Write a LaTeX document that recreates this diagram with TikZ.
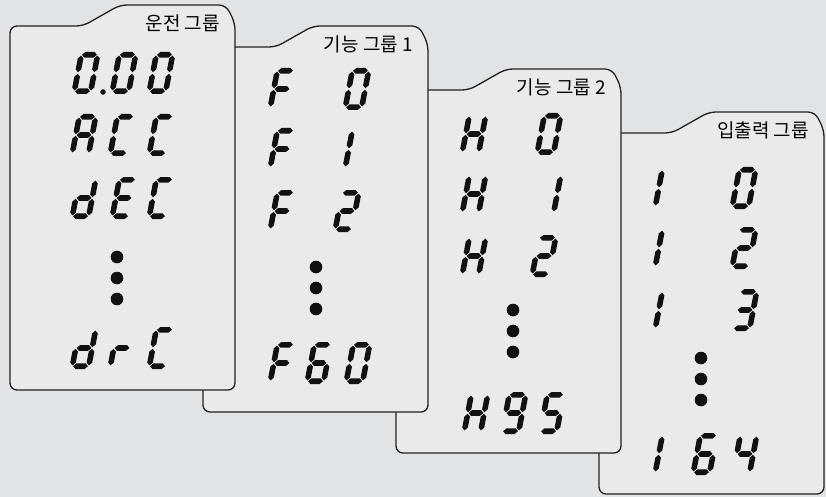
\documentclass[tikz,border=0pt]{standalone}
\usepackage{fontspec}
\newfontfamily\krfont{Noto Sans CJK KR}
\definecolor{bgback}{RGB}{224,228,231}
\definecolor{cardgray}{RGB}{233,234,236}
\definecolor{linegray}{RGB}{34,34,34}
\definecolor{segblack}{RGB}{17,17,17}

% seven-segment pieces (x to the right, y downwards, in px)
\newcommand{\sw}{2.8}
\newcommand{\hseg}[3]{\fill[segment] (#1,#3) -- (#1+\sw,#3-\sw) -- (#2-\sw,#3-\sw) -- (#2,#3) -- (#2-\sw,#3+\sw) -- (#1+\sw,#3+\sw) -- cycle;}
\newcommand{\vseg}[3]{\fill[segment] (#1,#2) -- (#1+\sw,#2+\sw) -- (#1+\sw,#3-\sw) -- (#1,#3) -- (#1-\sw,#3-\sw) -- (#1-\sw,#2+\sw) -- cycle;}
\newcommand{\sga}{\hseg{3.6}{18.4}{2.8}}
\newcommand{\sgg}{\hseg{3.6}{18.4}{21}}
\newcommand{\sgd}{\hseg{3.6}{18.4}{39.2}}
\newcommand{\sgf}{\vseg{2.8}{3.6}{20.2}}
\newcommand{\sge}{\vseg{2.8}{21.8}{38.4}}
\newcommand{\sgb}{\vseg{19.2}{3.6}{20.2}}
\newcommand{\sgc}{\vseg{19.2}{21.8}{38.4}}
\newcommand{\digit}[3]{% top-left x, top y, segments
  \begin{scope}[shift={(#1,#2)}, xslant=0.19]
    \foreach \s in {#3} {\csname sg\s\endcsname}
  \end{scope}}
\newcommand{\groupcard}[5]{% name, left, top, bottom, label
  \draw[cardline] (#2+100,#4) -- (#2,#4) -- (#2,#3) -- (#2+73,#3) -- (#2+110,#3-21)
    -- (#2+216,#3-21) -- (#2+225,#3-3) -- (#2+225,#4) -- cycle;
  \node[grouplabel] (#1) at (#2+210,#3-3) {#5};}
\newcommand{\dotcol}[2]{% x, first y
  \foreach \k in {0,1,2} {\fill[segment] (#1,#2+21*\k) circle (6.3pt);}}

\begin{document}
\begin{tikzpicture}[x=1pt, y=-1pt,
  cardline/.style={draw=linegray, fill=cardgray, line width=1.3pt, rounded corners=7},
  segment/.style={fill=segblack},
  grouplabel/.style={font=\krfont\fontsize{19}{19}\selectfont, inner sep=0pt, anchor=east}
]
  \fill[bgback] (0,0) rectangle (826,497);
  \useasboundingbox (0,0) rectangle (826,497);

  % input/output group
  \groupcard{io}{599}{133}{494}{입출력 그룹}
  \digit{660}{167}{e,f} \digit{737}{167}{a,b,c,d,e,f}
  \digit{660}{227}{e,f} \digit{737}{227}{a,b,g,e,d}
  \digit{660}{289}{e,f} \digit{738}{289}{a,b,g,c,d}
  \dotcol{701}{358}
  \digit{660}{433}{e,f} \digit{698}{433}{a,f,g,e,c,d} \digit{738}{433}{f,g,b,c}

  % function group 2
  \groupcard{fn2}{396}{90}{453}{기능 그룹 2}
  \digit{467}{113}{b,c,e,f,g} \digit{542}{113}{a,b,c,d,e,f}
  \digit{467}{173}{b,c,e,f,g} \digit{542}{173}{b,c}
  \digit{467}{235}{b,c,e,f,g} \digit{537}{235}{a,b,g,e,d}
  \dotcol{513}{310}
  \digit{469}{392}{b,c,e,f,g} \digit{507}{392}{a,b,c,d,f,g} \digit{545}{392}{a,f,g,c,d}

  % function group 1
  \groupcard{fn1}{203}{47}{412}{기능 그룹 1}
  \digit{275}{68}{a,e,f,g} \digit{350}{68}{a,b,c,d,e,f}
  \digit{275}{128}{a,e,f,g} \digit{350}{128}{e,f}
  \digit{275}{190}{a,e,f,g} \digit{340}{190}{a,b,g,e,d}
  \dotcol{316}{267}
  \digit{275}{342}{a,e,f,g} \digit{312}{342}{a,f,g,e,c,d} \digit{351}{342}{a,b,c,d,e,f}

  % drive group
  \groupcard{drv}{10}{26}{390}{운전 그룹}
  \digit{79}{52}{a,b,c,d,e,f} \fill[segment] (103,92) circle (2.8pt);
  \digit{117}{52}{a,b,c,d,e,f} \digit{154}{52}{a,b,c,d,e,f}
  \digit{77}{114}{a,b,c,e,f,g} \digit{115}{114}{a,d,e,f} \digit{154}{114}{a,d,e,f}
  \digit{77}{177}{b,c,d,e,g} \digit{117}{177}{a,d,e,f,g} \digit{154}{177}{a,d,e,f}
  \dotcol{117}{257}
  \digit{77}{327}{b,c,d,e,g} \digit{115}{327}{e,g} \digit{154}{327}{a,d,e,f}
\end{tikzpicture}
\end{document}
